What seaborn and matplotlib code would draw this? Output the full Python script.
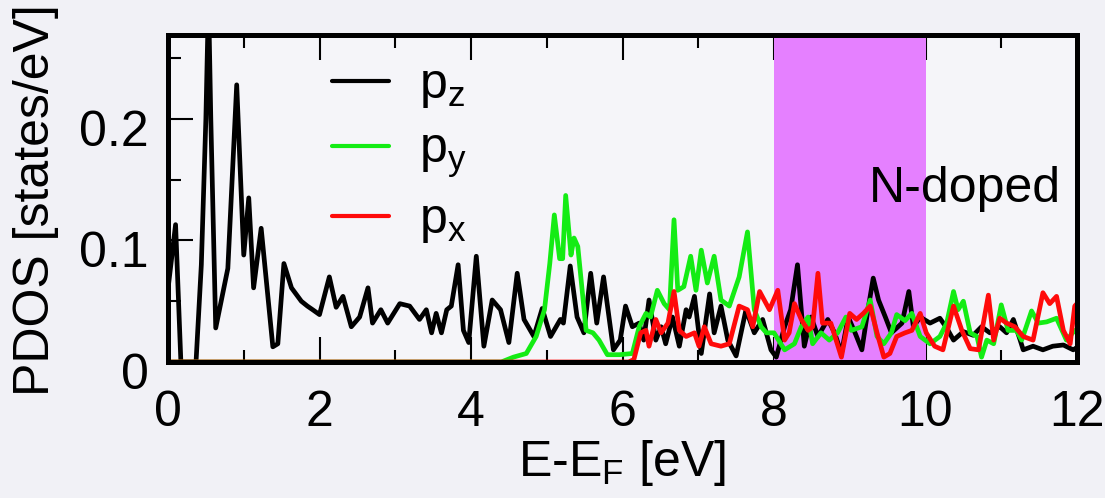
import matplotlib
matplotlib.use("Agg")
import matplotlib.pyplot as plt
import matplotlib.transforms as mtransforms
import seaborn as sns
import numpy as np
import pandas as pd
from matplotlib.ticker import MultipleLocator, FuncFormatter

# ---- data ----
pz_energy = [0.0, 0.1, 0.17, 0.37, 0.44, 0.50, 0.535, 0.565, 0.63, 0.79, 0.907, 1.0, 1.066, 1.13,
             1.23, 1.384, 1.45, 1.53, 1.63, 1.76, 1.84, 1.91, 2.0, 2.13, 2.22, 2.31, 2.42, 2.53,
             2.64, 2.70, 2.81, 2.90, 3.06, 3.19, 3.32, 3.41, 3.48, 3.54, 3.61, 3.68, 3.74, 3.83,
             3.90, 3.97, 4.07, 4.17, 4.28, 4.39, 4.50, 4.61, 4.70, 4.83, 4.94, 5.05, 5.18, 5.22,
             5.31, 5.40, 5.49, 5.58, 5.66, 5.75, 5.88, 5.97, 6.04, 6.13, 6.22, 6.28, 6.35, 6.44,
             6.51, 6.57, 6.66, 6.75, 6.84, 6.88, 6.95, 7.04, 7.15, 7.21, 7.30, 7.39, 7.50, 7.63,
             7.74, 7.85, 7.96, 8.03, 8.14, 8.22, 8.31, 8.40, 8.49, 8.58, 8.71, 8.80, 8.89, 8.98,
             9.07, 9.16, 9.24, 9.31, 9.38, 9.47, 9.55, 9.69, 9.78, 9.84, 9.93, 10.06, 10.19, 10.28,
             10.37, 10.50, 10.63, 10.74, 10.85, 10.98, 11.07, 11.16, 11.25, 11.29, 11.42, 11.55,
             11.68, 11.82, 11.95, 12.0]
pz_pdos = [0.060, 0.113, 0.0, 0.0, 0.08, 0.20, 0.30, 0.20, 0.028, 0.077, 0.228, 0.088, 0.135, 0.061,
           0.110, 0.0125, 0.015, 0.081, 0.061, 0.050, 0.046, 0.043, 0.039, 0.070, 0.045, 0.054, 0.029, 0.037,
           0.061, 0.032, 0.043, 0.032, 0.048, 0.046, 0.035, 0.043, 0.024, 0.040, 0.024, 0.043, 0.046, 0.080,
           0.026, 0.016, 0.087, 0.013, 0.051, 0.043, 0.016, 0.073, 0.035, 0.021, 0.044, 0.021, 0.035, 0.032,
           0.079, 0.037, 0.024, 0.073, 0.032, 0.070, 0.010, 0.018, 0.046, 0.029, 0.032, 0.018, 0.051, 0.018,
           0.029, 0.015, 0.037, 0.013, 0.043, 0.037, 0.054, 0.007, 0.056, 0.024, 0.046, 0.018, 0.005, 0.043,
           0.024, 0.035, 0.010, 0.004, 0.029, 0.043, 0.080, 0.013, 0.037, 0.021, 0.035, 0.024, 0.007, 0.037,
           0.024, 0.010, 0.043, 0.069, 0.051, 0.037, 0.024, 0.032, 0.058, 0.029, 0.037, 0.032, 0.036, 0.028,
           0.018, 0.025, 0.022, 0.029, 0.024, 0.029, 0.024, 0.035, 0.018, 0.010, 0.013, 0.010,
           0.013, 0.014, 0.010, 0.012]

py_energy = [0.0, 4.40, 4.56, 4.73, 4.86, 4.97, 5.04, 5.10, 5.17, 5.21, 5.25, 5.32, 5.36, 5.41, 5.52,
             5.61, 5.69, 5.80, 5.96, 6.13, 6.22, 6.31, 6.37, 6.46, 6.55, 6.62, 6.68, 6.73, 6.81,
             6.90, 6.97, 7.04, 7.12, 7.21, 7.30, 7.41, 7.54, 7.65, 7.74, 7.83, 7.90, 8.0, 8.14,
             8.27, 8.36, 8.45, 8.51, 8.62, 8.73, 8.84, 8.95, 9.02, 9.16, 9.27, 9.36, 9.45, 9.55,
             9.62, 9.73, 9.82, 9.93, 10.06, 10.19, 10.28, 10.37, 10.43, 10.50, 10.59, 10.68, 10.74,
             10.81, 10.90, 11.00, 11.09, 11.20, 11.27, 11.33, 11.40, 11.49, 11.60, 11.73, 11.86, 11.97, 12.0]
py_pdos = [0.0, 0.0, 0.004, 0.007, 0.021, 0.043, 0.081, 0.121, 0.085, 0.085, 0.137, 0.088, 0.102, 0.095, 0.026,
           0.024, 0.018, 0.006, 0.006, 0.007, 0.029, 0.040, 0.037, 0.059, 0.048, 0.043, 0.117, 0.059, 0.062,
           0.087, 0.059, 0.092, 0.065, 0.087, 0.051, 0.046, 0.070, 0.107, 0.043, 0.029, 0.024, 0.024, 0.010,
           0.015, 0.029, 0.037, 0.015, 0.024, 0.018, 0.024, 0.037, 0.026, 0.029, 0.051, 0.021, 0.015, 0.024,
           0.039, 0.034, 0.040, 0.021, 0.015, 0.021, 0.032, 0.058, 0.043, 0.050, 0.024, 0.021, 0.004,
           0.018, 0.015, 0.047, 0.026, 0.026, 0.018, 0.029, 0.042, 0.032, 0.033, 0.036, 0.018, 0.026, 0.024]

px_energy = [0.0, 6.08, 6.15, 6.24, 6.31, 6.35, 6.44, 6.51, 6.60, 6.68, 6.75, 6.84, 6.95, 7.01, 7.08,
             7.17, 7.30, 7.41, 7.54, 7.65, 7.72, 7.81, 7.94, 8.05, 8.14, 8.20, 8.27, 8.36, 8.45,
             8.51, 8.58, 8.64, 8.75, 8.89, 9.0, 9.09, 9.18, 9.27, 9.36, 9.45, 9.53, 9.62, 9.73,
             9.82, 9.93, 10.01, 10.12, 10.23, 10.37, 10.48, 10.59, 10.70, 10.83, 10.90, 10.98, 11.07,
             11.18, 11.29, 11.42, 11.55, 11.64, 11.73, 11.82, 11.91, 11.97, 12.0]
px_pdos = [0.0, 0.0, 0.002, 0.024, 0.026, 0.013, 0.035, 0.024, 0.032, 0.058, 0.026, 0.021, 0.024, 0.013, 0.029,
           0.015, 0.013, 0.015, 0.046, 0.043, 0.029, 0.058, 0.043, 0.059, 0.018, 0.024, 0.048, 0.035, 0.026,
           0.029, 0.073, 0.032, 0.032, 0.004, 0.040, 0.035, 0.040, 0.046, 0.024, 0.004, 0.007, 0.021, 0.024,
           0.026, 0.040, 0.024, 0.013, 0.010, 0.046, 0.026, 0.011, 0.010, 0.055, 0.018, 0.036, 0.032,
           0.029, 0.021, 0.018, 0.057, 0.048, 0.054, 0.026, 0.015, 0.046, 0.048]

series_labels = [r"p$_\mathrm{z}$", r"p$_\mathrm{y}$", r"p$_\mathrm{x}$"]
series_colors = ["#000000", "#14EC14", "#FF0A0A"]
xticks_major = [0, 2, 4, 6, 8, 10, 12]
yticks_major = [0, 0.1, 0.2]
band_range = (8, 10)

# ---- style ----
sns.set_style("ticks")
plt.rcParams["font.family"] = ["Liberation Sans", "DejaVu Sans"]
plt.rcParams["mathtext.fontset"] = "custom"
plt.rcParams["mathtext.rm"] = "Liberation Sans"
plt.rcParams["mathtext.it"] = "Liberation Sans:italic"
plt.rcParams["mathtext.bf"] = "Liberation Sans:bold"
for k in ["text.color", "axes.labelcolor", "xtick.color", "ytick.color"]:
    plt.rcParams[k] = "black"

bg = "#F1F1F6"
fig = plt.figure(figsize=(11.05, 4.98), dpi=100, facecolor=bg)
ax = fig.add_axes([168 / 1105, 1 - 362 / 498, (1077 - 168) / 1105, (362 - 35) / 498])
ax.set_facecolor("#F5F5F9")

ax.axvspan(*band_range, color="#E580FF", lw=0, zorder=1)

for en, val, lab, col in zip([pz_energy, py_energy, px_energy],
                             [pz_pdos, py_pdos, px_pdos],
                             series_labels, series_colors):
    df = pd.DataFrame({"E": en, "PDOS": val})
    sns.lineplot(data=df, x="E", y="PDOS", ax=ax, color=col, lw=3.4,
                 label=lab, sort=False, estimator=None, zorder=3,
                 solid_joinstyle="round", solid_capstyle="round")

ax.set_xlim(0, 12)
ax.set_ylim(0, 0.269)
ax.set_xticks(xticks_major)
ax.xaxis.set_minor_locator(MultipleLocator(1))
ax.set_yticks(yticks_major)
ax.yaxis.set_minor_locator(MultipleLocator(0.05))
ax.yaxis.set_major_formatter(FuncFormatter(lambda v, p: "%g" % v))
ax.tick_params(axis="both", which="major", direction="in", length=18, width=1.5,
               labelsize=36, top=True, right=False, color="black", labelcolor="black")
ax.tick_params(axis="both", which="minor", direction="in", length=9, width=1.5,
               top=True, right=False)
ax.tick_params(axis="x", which="major", pad=20)
ax.tick_params(axis="y", which="major", pad=14)
# y tick labels sit slightly below their ticks in the reference
yoff = mtransforms.ScaledTranslation(0, -9 / 100, fig.dpi_scale_trans)
for lbl in ax.get_yticklabels():
    lbl.set_transform(lbl.get_transform() + yoff)
for s in ax.spines.values():
    s.set_linewidth(3.6)
    s.set_color("black")
    s.set_zorder(5)

ax.set_xlabel("")
ax.set_ylabel("")
fig.text(36 / 1105, 1 - 200 / 498, "PDOS [states/eV]", rotation=90, ha="center",
         va="center", fontsize=36)
fig.text(622 / 1105, 1 - 476 / 498, r"E-E$_\mathrm{F}$ [eV]", ha="center",
         va="baseline", fontsize=36)

ax.text(0.982, 0.489, "N-doped", transform=ax.transAxes, ha="right",
        va="baseline", fontsize=36, zorder=6)

leg = ax.legend(loc="upper left", bbox_to_anchor=((332 - 168) / 910, (362 - 62) / 327),
                frameon=False, fontsize=36, handlelength=1.15, handletextpad=0.6,
                labelspacing=0.34, borderaxespad=0, borderpad=0)
for line in leg.get_lines():
    line.set_linewidth(3.0)

fig.savefig("out.png", dpi=100, facecolor=bg)
